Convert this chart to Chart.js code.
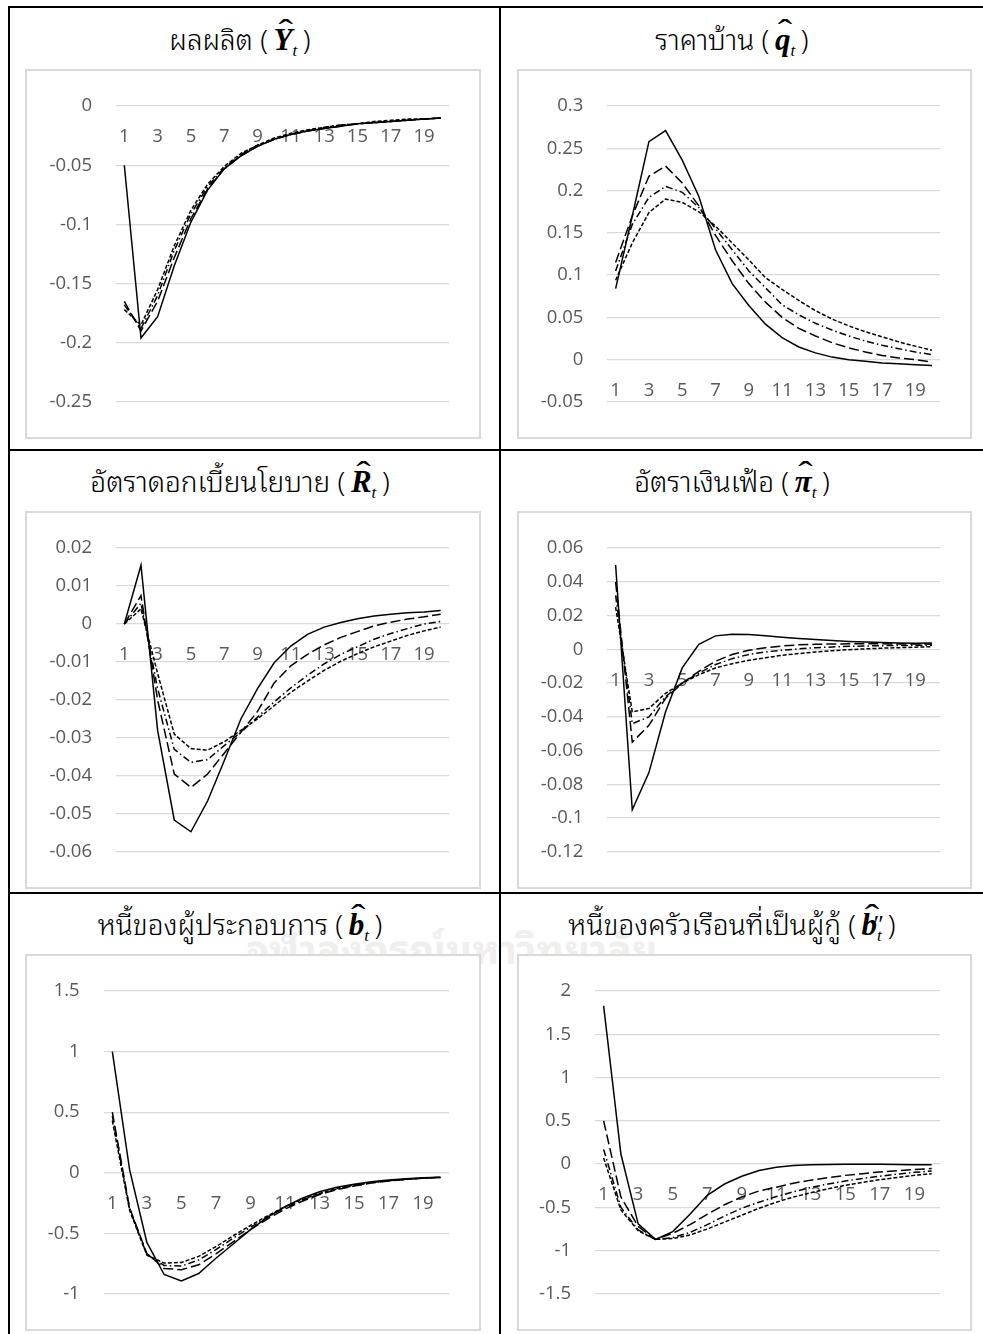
<!DOCTYPE html>
<html>
<head>
<meta charset="utf-8">
<script src="https://cdn.jsdelivr.net/npm/chart.js@4.4.1/dist/chart.umd.min.js"></script>
<style>
  html, body { margin: 0; padding: 0; background: #fff; }
  body {
    width: 983px; height: 1334px; position: relative; overflow: hidden;
    font-family: "Noto Sans Thai Looped", "Loma", "Garuda", "Norasi", "Sarabun", "Tahoma", "Noto Sans Thai", "Noto Sans", sans-serif;
  }
  .rule { position: absolute; background: #000; }
  .box { position: absolute; border: 2px solid #d9d9d9; box-sizing: border-box; background: #fff; }
  .box canvas { position: absolute; left: 0; top: 0; }
  .title {
    position: absolute; white-space: nowrap; font-size: 28px; line-height: 40px; font-weight: 300;
    color: #000; transform: translateX(-50%);
  }
  .m { font-family: "Liberation Serif", "Times New Roman", serif; font-style: italic; font-weight: bold; font-size: 31px; }
  .acc { position: relative; display: inline-block; }
  .hat {
    position: absolute; left: 0.14em; right: 0; top: -0.3em; text-align: center;
    font-style: normal; font-weight: normal; transform: scaleX(1.4);
  }
  .m sub { font-size: 0.55em; font-weight: normal; vertical-align: -0.35em; }
  .pp { font-size: 0.8em; font-weight: normal; margin-left: -0.4em; vertical-align: 0.1em; }
  .wm {
    position: absolute; left: 452px; top: 914px; transform: translateX(-50%);
    font-size: 40px; font-weight: bold; color: #f1eeee; white-space: nowrap;
  }
</style>
</head>
<body>

<div class="wm">จุฬาลงกรณ์มหาวิทยาลัย</div>

<!-- table rules -->
<div class="rule" style="left:8px;top:6px;width:975px;height:2px"></div>
<div class="rule" style="left:8px;top:6px;width:2px;height:1328px"></div>
<div class="rule" style="left:499px;top:6px;width:2px;height:1328px"></div>
<div class="rule" style="left:8px;top:449px;width:975px;height:2px"></div>
<div class="rule" style="left:8px;top:892px;width:975px;height:2px"></div>

<div class="title" style="left:240px;top:18px">ผลผลิต (&thinsp;<span class="m"><span class="acc">Y<span class="hat">ˆ</span></span><sub>t</sub></span>&thinsp;)</div>
<div class="title" style="left:732px;top:18px">ราคาบ้าน (&thinsp;<span class="m"><span class="acc">q<span class="hat">ˆ</span></span><sub>t</sub></span>&thinsp;)</div>
<div class="title" style="left:240px;top:460px">อัตราดอกเบี้ยนโยบาย (&thinsp;<span class="m"><span class="acc">R<span class="hat">ˆ</span></span><sub>t</sub></span>&thinsp;)</div>
<div class="title" style="left:732px;top:460px">อัตราเงินเฟ้อ (&thinsp;<span class="m"><span class="acc">π<span class="hat">ˆ</span></span><sub>t</sub></span>&thinsp;)</div>
<div class="title" style="left:240px;top:903px">หนี้ของผู้ประกอบการ (&thinsp;<span class="m"><span class="acc">b<span class="hat">ˆ</span></span><sub>t</sub></span>&thinsp;)</div>
<div class="title" style="left:732px;top:903px">หนี้ของครัวเรือนที่เป็นผู้กู้ (&thinsp;<span class="m"><span class="acc">b<span class="hat">ˆ</span></span><sub>t</sub><span class="pp">″</span></span>&thinsp;)</div>

<div class="box" id="p1" style="left:25px;top:69px;width:456px;height:370px"><canvas id="c1"></canvas></div>
<div class="box" id="p2" style="left:517px;top:69px;width:455px;height:370px"><canvas id="c2"></canvas></div>
<div class="box" id="p3" style="left:25px;top:511px;width:456px;height:378px"><canvas id="c3"></canvas></div>
<div class="box" id="p4" style="left:517px;top:511px;width:455px;height:378px"><canvas id="c4"></canvas></div>
<div class="box" id="p5" style="left:25px;top:954px;width:456px;height:377px"><canvas id="c5"></canvas></div>
<div class="box" id="p6" style="left:517px;top:954px;width:455px;height:377px"><canvas id="c6"></canvas></div>

<script>
// periods after the shock
const periods = [1, 2, 3, 4, 5, 6, 7, 8, 9, 10, 11, 12, 13, 14, 15, 16, 17, 18, 19, 20];

// output
const Y1 = [-0.050, -0.196, -0.178, -0.135, -0.098, -0.071, -0.053, -0.042, -0.034, -0.028, -0.024, -0.021, -0.019, -0.017, -0.015, -0.014, -0.013, -0.012, -0.011, -0.010];
const Y2 = [-0.165, -0.190, -0.165, -0.128, -0.095, -0.070, -0.053, -0.042, -0.034, -0.028, -0.024, -0.021, -0.019, -0.017, -0.015, -0.014, -0.013, -0.012, -0.011, -0.010];
const Y3 = [-0.168, -0.188, -0.160, -0.122, -0.091, -0.068, -0.052, -0.041, -0.033, -0.028, -0.024, -0.021, -0.018, -0.016, -0.015, -0.014, -0.013, -0.012, -0.011, -0.010];
const Y4 = [-0.172, -0.185, -0.155, -0.118, -0.088, -0.066, -0.051, -0.040, -0.033, -0.027, -0.023, -0.020, -0.018, -0.016, -0.015, -0.013, -0.012, -0.011, -0.011, -0.010];
const yTicksY = [0, -0.05, -0.1, -0.15, -0.2, -0.25];

// house price
const q1 = [0.084, 0.170, 0.258, 0.271, 0.236, 0.193, 0.130, 0.090, 0.064, 0.042, 0.026, 0.015, 0.008, 0.003, 0.000, -0.002, -0.004, -0.005, -0.006, -0.007];
const q2 = [0.115, 0.170, 0.217, 0.229, 0.209, 0.182, 0.147, 0.117, 0.090, 0.068, 0.050, 0.037, 0.028, 0.020, 0.014, 0.009, 0.005, 0.002, 0.000, -0.003];
const q3 = [0.105, 0.160, 0.192, 0.205, 0.198, 0.180, 0.155, 0.130, 0.105, 0.085, 0.065, 0.053, 0.043, 0.035, 0.028, 0.022, 0.017, 0.013, 0.009, 0.006];
const q4 = [0.094, 0.138, 0.174, 0.190, 0.186, 0.175, 0.158, 0.138, 0.118, 0.097, 0.083, 0.070, 0.058, 0.048, 0.040, 0.033, 0.027, 0.021, 0.016, 0.011];
const yTicksQ = [0.3, 0.25, 0.2, 0.15, 0.1, 0.05, 0, -0.05];

// policy rate
const R1 = [0, 0.0155, -0.028, -0.0516, -0.0547, -0.0466, -0.036, -0.025, -0.017, -0.0102, -0.0058, -0.0027, -0.0008, 0.0004, 0.0014, 0.0021, 0.0026, 0.0030, 0.0032, 0.0036];
const R2 = [0, 0.0075, -0.020, -0.0395, -0.0430, -0.0395, -0.034, -0.0285, -0.023, -0.0155, -0.0110, -0.0080, -0.0055, -0.0035, -0.0020, -0.0005, 0.0005, 0.0013, 0.0019, 0.0026];
const R3 = [0, 0.0055, -0.017, -0.0330, -0.0364, -0.0357, -0.032, -0.0285, -0.0245, -0.0205, -0.0168, -0.0135, -0.0105, -0.0080, -0.0060, -0.0040, -0.0025, -0.0012, 0.0000, 0.0007];
const R4 = [0, 0.0040, -0.013, -0.0290, -0.0328, -0.0332, -0.031, -0.0280, -0.0250, -0.0215, -0.0180, -0.0150, -0.0122, -0.0098, -0.0078, -0.0060, -0.0045, -0.0030, -0.0018, -0.0008];
const yTicksR = [0.02, 0.01, 0, -0.01, -0.02, -0.03, -0.04, -0.05, -0.06];

// inflation
const pi1 = [0.050, -0.095, -0.073, -0.037, -0.011, 0.003, 0.008, 0.009, 0.0088, 0.008, 0.0072, 0.0065, 0.0058, 0.0052, 0.0047, 0.0043, 0.0040, 0.0038, 0.0036, 0.0037];
const pi2 = [0.040, -0.055, -0.045, -0.029, -0.020, -0.013, -0.007, -0.003, -0.0005, 0.001, 0.0020, 0.0027, 0.0030, 0.0032, 0.0033, 0.0033, 0.0033, 0.0032, 0.0032, 0.0031];
const pi3 = [0.032, -0.044, -0.040, -0.028, -0.020, -0.014, -0.009, -0.0055, -0.003, -0.0015, -0.0005, 0.0003, 0.0010, 0.0014, 0.0018, 0.0020, 0.0022, 0.0023, 0.0024, 0.0025];
const pi4 = [0.025, -0.037, -0.035, -0.026, -0.020, -0.015, -0.011, -0.0085, -0.0065, -0.005, -0.0035, -0.0025, -0.0015, -0.0008, -0.0002, 0.0003, 0.0007, 0.0010, 0.0013, 0.0016];
const yTicksPi = [0.06, 0.04, 0.02, 0, -0.02, -0.04, -0.06, -0.08, -0.1, -0.12];

// entrepreneur debt
const b1 = [1.00, 0.026, -0.575, -0.84, -0.894, -0.832, -0.706, -0.588, -0.470, -0.366, -0.280, -0.210, -0.157, -0.120, -0.095, -0.075, -0.060, -0.050, -0.042, -0.037];
const b2 = [0.50, -0.290, -0.667, -0.79, -0.800, -0.760, -0.670, -0.570, -0.470, -0.380, -0.300, -0.235, -0.180, -0.140, -0.110, -0.085, -0.068, -0.055, -0.045, -0.038];
const b3 = [0.47, -0.300, -0.675, -0.765, -0.770, -0.720, -0.635, -0.540, -0.450, -0.365, -0.290, -0.225, -0.175, -0.135, -0.105, -0.082, -0.066, -0.054, -0.045, -0.038];
const b4 = [0.43, -0.310, -0.680, -0.745, -0.740, -0.690, -0.610, -0.520, -0.435, -0.355, -0.280, -0.220, -0.170, -0.130, -0.100, -0.080, -0.065, -0.053, -0.044, -0.038];
const yTicksB = [1.5, 1, 0.5, 0, -0.5, -1];

// borrower household debt
const bb1 = [1.83, 0.117, -0.69, -0.87, -0.78, -0.58, -0.36, -0.23, -0.14, -0.073, -0.037, -0.017, -0.007, -0.003, -0.001, 0.000, -0.002, -0.004, -0.006, -0.008];
const bb2 = [0.50, -0.380, -0.72, -0.87, -0.80, -0.70, -0.58, -0.47, -0.38, -0.310, -0.267, -0.220, -0.185, -0.155, -0.130, -0.110, -0.090, -0.075, -0.063, -0.050];
const bb3 = [0.17, -0.500, -0.76, -0.87, -0.85, -0.79, -0.70, -0.60, -0.51, -0.440, -0.375, -0.320, -0.270, -0.230, -0.195, -0.165, -0.140, -0.115, -0.095, -0.080];
const bb4 = [0.07, -0.530, -0.77, -0.87, -0.86, -0.82, -0.75, -0.67, -0.59, -0.510, -0.440, -0.380, -0.330, -0.285, -0.245, -0.210, -0.180, -0.155, -0.130, -0.110];
const yTicksBB = [2, 1.5, 1, 0.5, 0, -0.5, -1, -1.5];

// solid, long dash, dash-dot, short dash
const dashes = [[], [10, 4], [7, 3, 1.5, 3], [4, 2]];

const tickFont = { family: '"Open Sans", "Noto Sans", sans-serif', size: 18.5 };
const tickColor = '#595959';

// plot rectangle of each panel in page coordinates
const panels = [
  { box: 'p1', canvas: 'c1', series: [Y1, Y2, Y3, Y4], ticks: yTicksY, plot: { l: 116, r: 449, t: 98.7, b: 417.3 } },
  { box: 'p2', canvas: 'c2', series: [q1, q2, q3, q4], ticks: yTicksQ, plot: { l: 607.3, r: 940.3, t: 98.7, b: 417.3 } },
  { box: 'p3', canvas: 'c3', series: [R1, R2, R3, R4], ticks: yTicksR, plot: { l: 116, r: 449, t: 541, b: 860 } },
  { box: 'p4', canvas: 'c4', series: [pi1, pi2, pi3, pi4], ticks: yTicksPi, plot: { l: 607.3, r: 940.3, t: 540.7, b: 860 } },
  { box: 'p5', canvas: 'c5', series: [b1, b2, b3, b4], ticks: yTicksB, plot: { l: 103.7, r: 449, t: 983.7, b: 1302.3 } },
  { box: 'p6', canvas: 'c6', series: [bb1, bb2, bb3, bb4], ticks: yTicksBB, plot: { l: 595, r: 940.3, t: 983.7, b: 1302.3 } }
];

function fmt(v) {
  return String(parseFloat(Number(v).toFixed(4)));
}

panels.forEach(p => {
  const box = document.getElementById(p.box);
  const cv = document.getElementById(p.canvas);
  const innerL = box.offsetLeft + 2;
  const innerT = box.offsetTop + 2;
  const innerW = box.clientWidth;
  const innerH = box.clientHeight;
  cv.width = innerW;
  cv.height = innerH;

  const axisW = p.plot.l - innerL;
  const top = Math.max(...p.ticks);
  const bottom = Math.min(...p.ticks);

  new Chart(cv, {
    type: 'line',
    data: {
      labels: periods,
      datasets: p.series.map((s, i) => ({
        data: s,
        borderColor: '#000',
        borderWidth: 1.5,
        borderDash: dashes[i],
        pointRadius: 0,
        tension: 0,
        fill: false
      }))
    },
    options: {
      responsive: false,
      animation: false,
      events: [],
      layout: {
        padding: {
          left: 0,
          top: p.plot.t - innerT,
          right: innerL + innerW - p.plot.r,
          bottom: innerT + innerH - p.plot.b
        }
      },
      plugins: { legend: { display: false }, tooltip: { enabled: false } },
      scales: {
        x: {
          type: 'category',
          offset: true,
          position: { y: 0 },
          grid: { display: false, drawTicks: false },
          border: { display: false },
          ticks: {
            autoSkip: false,
            maxRotation: 0,
            padding: 20,
            font: tickFont,
            color: tickColor,
            callback: function (v, i) { return i % 2 === 0 ? this.getLabelForValue(v) : ''; }
          }
        },
        y: {
          min: bottom,
          max: top,
          afterFit: s => { s.width = axisW; },
          afterBuildTicks: s => { s.ticks = p.ticks.map(v => ({ value: v })); },
          grid: { color: '#d9d9d9', lineWidth: 1.3, drawTicks: false },
          border: { display: false },
          ticks: {
            padding: 24,
            font: tickFont,
            color: tickColor,
            callback: v => fmt(v)
          }
        }
      }
    }
  });
});
</script>
</body>
</html>
